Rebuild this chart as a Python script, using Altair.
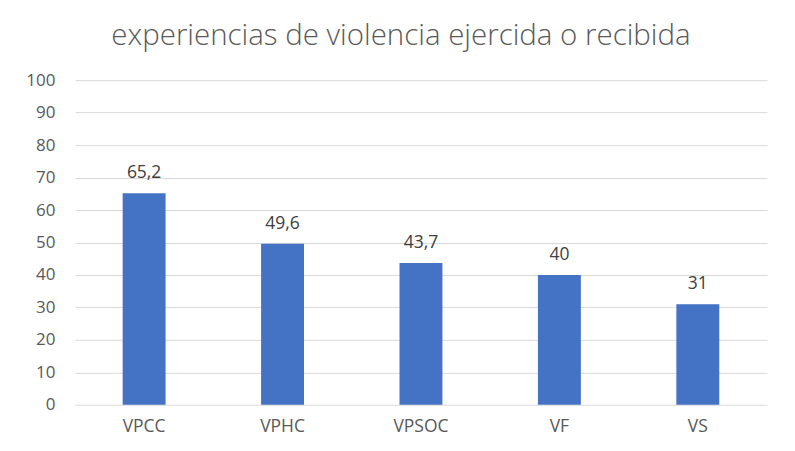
import altair as alt
import pandas as pd

categories = ["VPCC", "VPHC", "VPSOC", "VF", "VS"]
values = [65.2, 49.6, 43.7, 40, 31]
labels = ["65,2", "49,6", "43,7", "40", "31"]
y_ticks = [0, 10, 20, 30, 40, 50, 60, 70, 80, 90, 100]

df = pd.DataFrame({"cat": categories, "val": values, "lab": labels})

FONT = "Open Sans"
GRAY = "#595959"

x = alt.X("cat:N", sort=categories, title=None,
          scale=alt.Scale(paddingInner=0.69, paddingOuter=0.345),
          axis=alt.Axis(labelAngle=0, ticks=False, domain=False, grid=False,
                        labelFont=FONT, labelFontSize=17.5, labelColor=GRAY,
                        labelPadding=13))
y = alt.Y("val:Q", title=None,
          scale=alt.Scale(domain=[0, 100], nice=False),
          axis=alt.Axis(values=y_ticks, ticks=False, domain=False,
                        labelOverlap=False,
                        gridColor="#d9d9d9", gridWidth=1,
                        labelFont=FONT, labelFontSize=17, labelColor=GRAY,
                        labelPadding=20))

bars = alt.Chart(df).mark_bar(color="#4472C4").encode(x=x, y=y)
text = alt.Chart(df).mark_text(baseline="alphabetic", dy=-15, font=FONT,
                               fontSize=17.5, color="#404040").encode(
    x=x, y=y, text="lab:N")

chart = alt.layer(bars, text).properties(
    width=693, height=325,
    autosize=alt.AutoSizeParams(type="none"),
    padding={"left": 67, "top": 72, "right": 20, "bottom": 36},
    background="white",
    title=alt.TitleParams("experiencias de violencia ejercida o recibida",
                          font=FONT, fontSize=29.5, fontWeight=300, color=GRAY,
                          anchor="middle", dx=-20, offset=20),
).configure_view(stroke=None)

chart.save("out.html", embed_options={"renderer": "svg", "actions": False})
